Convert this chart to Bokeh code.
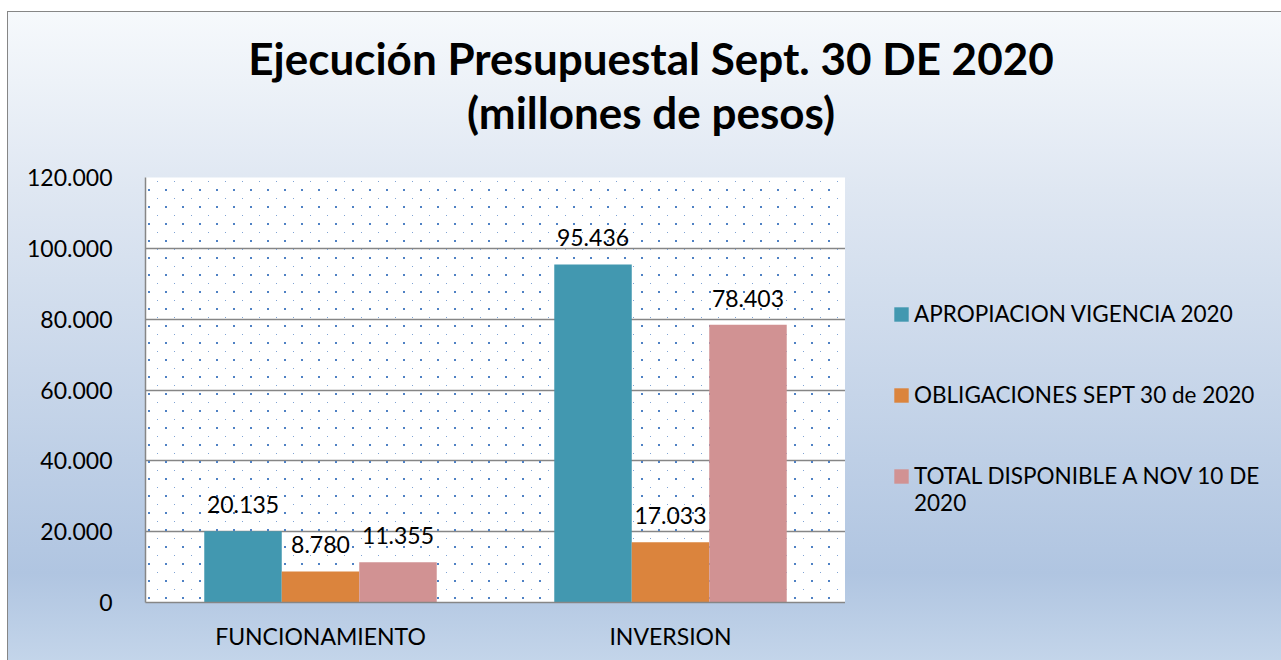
import urllib.parse
from bokeh.plotting import figure
from bokeh.layouts import column, row
from bokeh.models import (ColumnDataSource, Range1d, FactorRange, FixedTicker, CustomJSTickFormatter,
                          LabelSet, Div, Legend, LegendItem, BoxAnnotation, ImageURLTexture)
from bokeh.transform import dodge
from bokeh.core.properties import value
from bokeh.embed import file_html
from bokeh.resources import INLINE

# ---- data ----
categories = ["FUNCIONAMIENTO", "INVERSION"]
series_names = ["APROPIACION VIGENCIA 2020", "OBLIGACIONES SEPT 30 de 2020",
                "TOTAL DISPONIBLE A NOV 10 DE", "2020"]
apropiacion = [20135, 95436]
obligaciones = [8780, 17033]
disponible = [11355, 78403]
y_ticks = [0, 20000, 40000, 60000, 80000, 100000, 120000]
title_lines = ["Ejecución Presupuestal Sept. 30 DE 2020", "(millones de pesos)"]

colors = ["#4298b0", "#db843d", "#d19293"]
FONT = "Lato"


def fmt(v):
    return f"{v:,}".replace(",", ".")


# ---------------- title ----------------
title = Div(text="<br>".join(title_lines), width=1281, height=160, margin=0,
            styles={"font-family": FONT, "font-weight": "bold", "font-size": "44px",
                    "line-height": "54px", "text-align": "center", "color": "#000000",
                    "padding-top": "31px", "padding-left": "21px", "box-sizing": "border-box"})

# ---------------- main chart ----------------
p = figure(width=845, height=500, x_range=FactorRange(factors=categories, range_padding=0),
           y_range=Range1d(0, 120000), output_backend="svg", toolbar_location=None,
           title=None, min_border_left=145, min_border_right=0, min_border_top=17,
           min_border_bottom=58, margin=0)
p.background_fill_color = "white"
p.border_fill_color = None
p.outline_line_color = None

# dotted plot-area pattern
svg_tile = ("<svg xmlns='http://www.w3.org/2000/svg' width='17' height='17'>"
            "<rect x='12' y='12' width='2' height='2' fill='#4f81c4'/>"
            "<rect x='4' y='4' width='1' height='1' fill='#7fa3d4'/></svg>")
uri = "data:image/svg+xml;charset=utf-8," + urllib.parse.quote(svg_tile)
box = BoxAnnotation(fill_alpha=0, line_color=None, hatch_pattern="dots",
                    hatch_extra={"dots": ImageURLTexture(url=uri)}, level="underlay")
p.add_layout(box)

series_vals = [apropiacion, obligaciones, disponible]
offsets = [-0.2214, 0.0, 0.2214]
for vals, off, col in zip(series_vals, offsets, colors):
    src = ColumnDataSource(dict(cat=categories, val=vals, lbl=[fmt(v) for v in vals]))
    p.vbar(x=dodge("cat", off, range=p.x_range), top="val", width=0.2214, source=src,
           fill_color=col, line_color=None)
    p.add_layout(LabelSet(x=dodge("cat", off, range=p.x_range), y="val", text="lbl", source=src,
                          text_align="center", text_baseline="alphabetic", y_offset=18,
                          text_font=value(FONT), text_font_size="23px", text_color="#000000"))

p.xgrid.grid_line_color = None
p.ygrid.grid_line_color = "#868686"
p.ygrid.grid_line_width = 1.5
for ax in (p.xaxis, p.yaxis):
    ax.axis_line_color = "#868686"
    ax.axis_line_width = 1.5
    ax.major_tick_line_color = None
    ax.minor_tick_line_color = None
    ax.major_label_text_font = FONT
    ax.major_label_text_font_size = "23px"
    ax.major_label_text_color = "#000000"
p.xaxis.major_label_standoff = 13
p.yaxis.major_label_standoff = 27
p.yaxis.ticker = FixedTicker(ticks=y_ticks)
p.yaxis.formatter = CustomJSTickFormatter(
    code="return tick.toFixed(0).replace(/\\B(?=(\\d{3})+(?!\\d))/g, '.');")

# ---------------- legend panel ----------------
lg = figure(width=436, height=500, x_range=Range1d(0, 1), y_range=Range1d(0, 1),
            x_axis_type=None, y_axis_type=None, output_backend="svg", toolbar_location=None,
            title=None, min_border=0, margin=0)
lg.background_fill_color = None
lg.border_fill_color = None
lg.outline_line_color = None
lg.grid.visible = False
# zero-size proxy bars that only carry the legend colours
proxies = [lg.vbar(x=[0], top=[0], width=0, fill_color=c, line_color=None) for c in colors]
blank = lg.vbar(x=[], top=[], width=0.1, fill_alpha=0, line_alpha=0)
items = [
    LegendItem(label=series_names[0], renderers=[proxies[0]]),
    LegendItem(label=" ", renderers=[blank]),
    LegendItem(label=" ", renderers=[blank]),
    LegendItem(label=series_names[1], renderers=[proxies[1]]),
    LegendItem(label=" ", renderers=[blank]),
    LegendItem(label=" ", renderers=[blank]),
    LegendItem(label=series_names[2], renderers=[proxies[2]]),
    LegendItem(label=series_names[3], renderers=[blank]),
]
legend = Legend(items=items, location=(47, 86), border_line_color=None,
                background_fill_alpha=0, padding=0, margin=0, spacing=0,
                glyph_width=18, glyph_height=18, label_standoff=4, label_height=27,
                label_text_font=FONT, label_text_font_size="22.5px", label_text_color="#000000")
lg.add_layout(legend)

layout = column(title, row(p, lg, spacing=0, margin=0), spacing=0, margin=0, width=1281, height=660,
                styles={
                    "background": ("linear-gradient(#868686,#868686) 7px 11px / 1px 100% no-repeat, "
                                   "linear-gradient(#868686,#868686) 7px 11px / 100% 1px no-repeat, "
                                   "linear-gradient(180deg, #f6f9fc 0%, #dfe7f2 27%, #b0c5e1 85%, "
                                   "#c6d7eb 100%) 8px 12px / 100% 100% no-repeat, white"),
                })

open("out.html", "w").write(file_html(layout, INLINE))
